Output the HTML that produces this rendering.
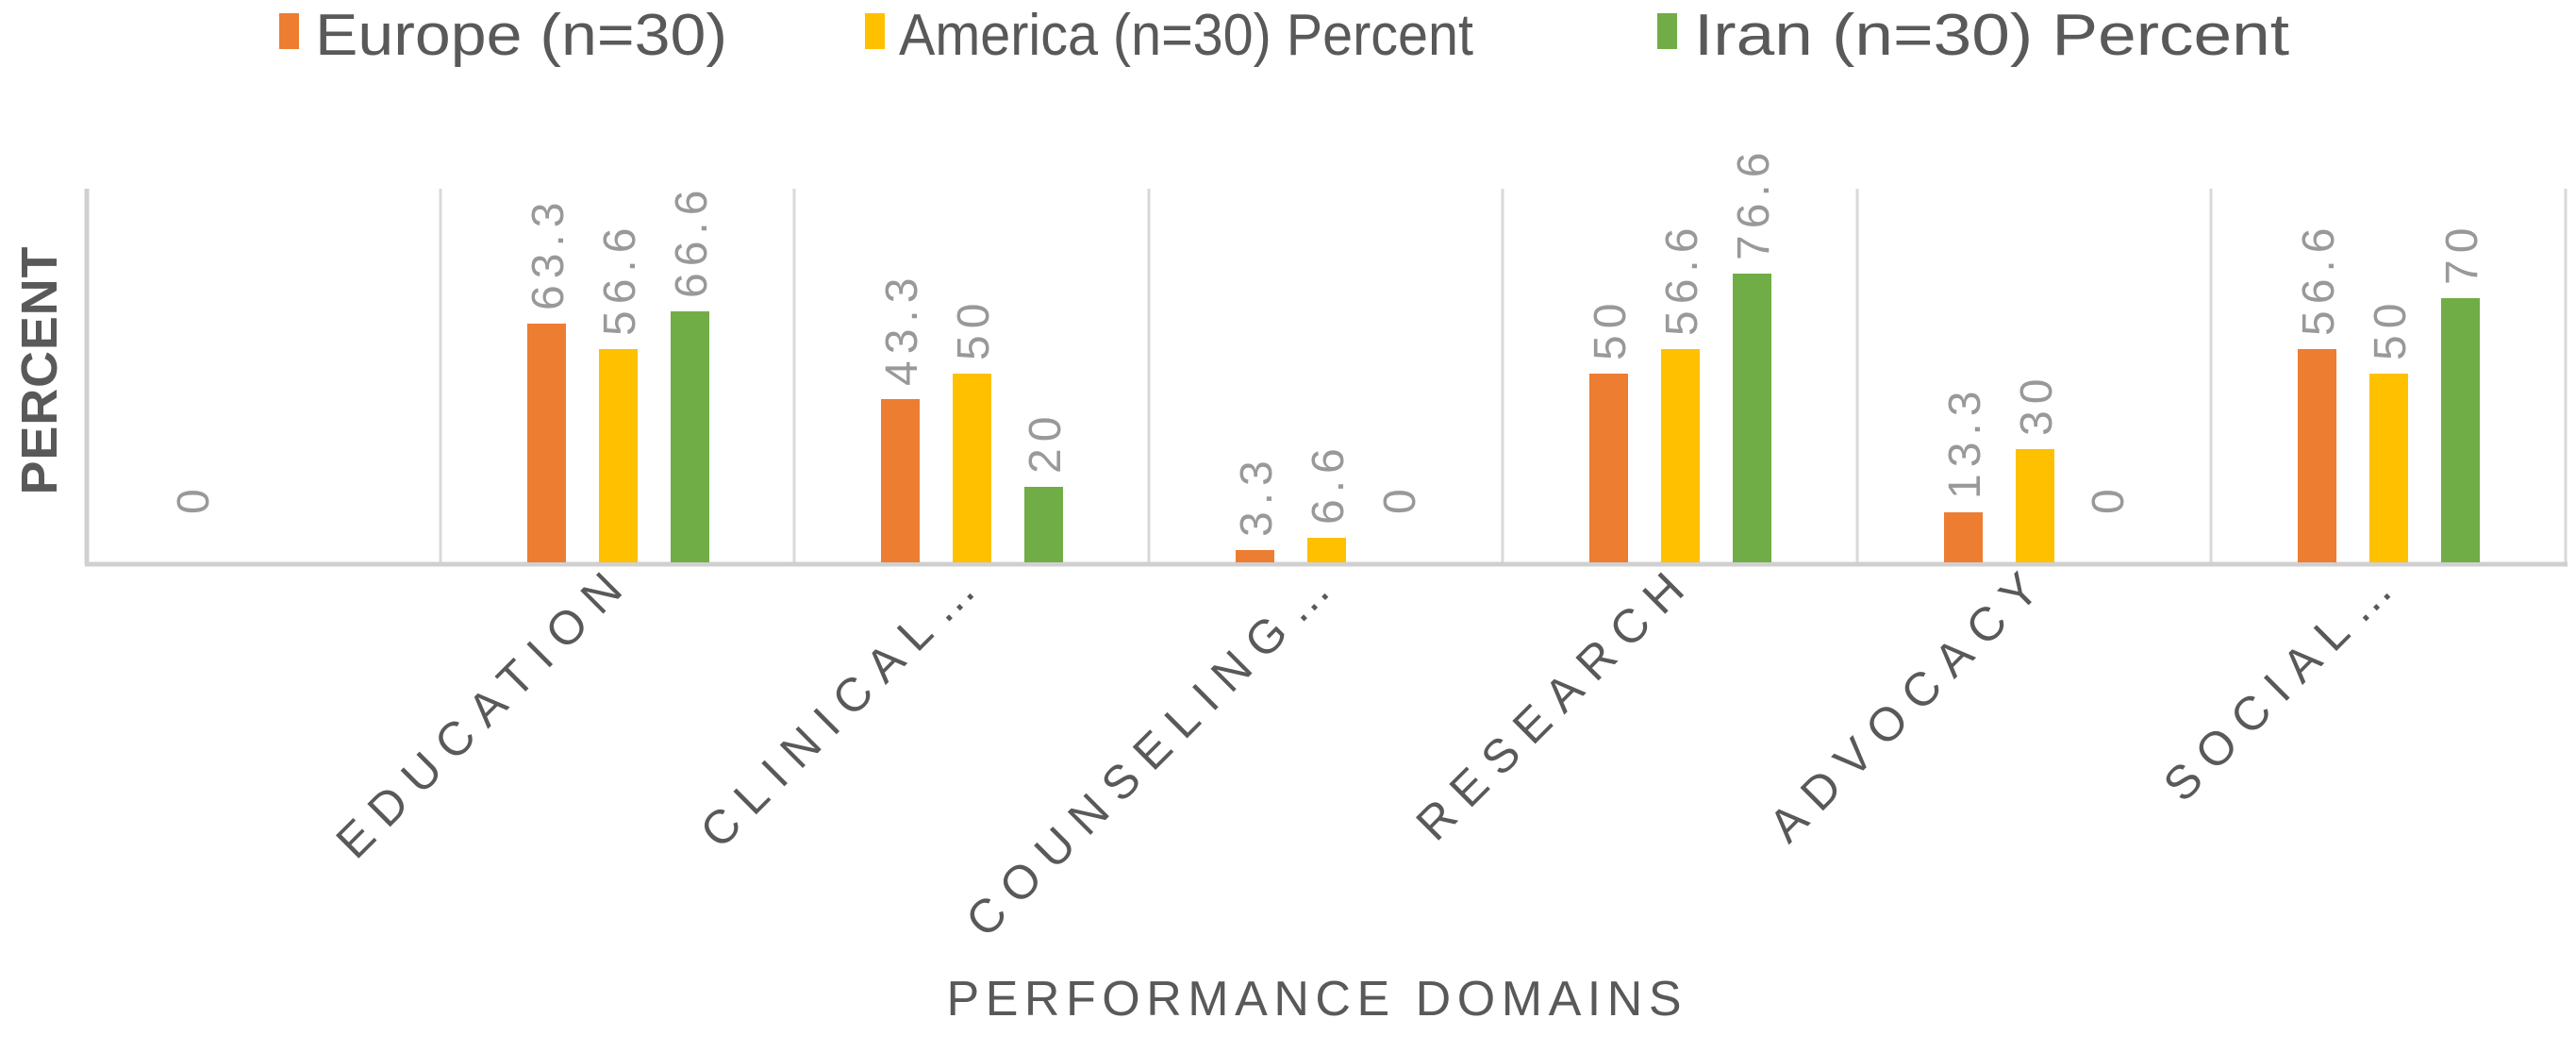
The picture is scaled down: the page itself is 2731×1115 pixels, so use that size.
<!DOCTYPE html>
<html><head><meta charset="utf-8"><style>
html,body{margin:0;padding:0;background:#fff;}
svg{display:block;}
text{font-family:"Liberation Sans",sans-serif;}
</style></head><body>
<svg width="2731" height="1115" viewBox="0 0 2731 1115" xmlns="http://www.w3.org/2000/svg">
<rect width="2731" height="1115" fill="#fff"/>
<!-- legend -->
<rect x="296" y="14" width="21" height="38" fill="#ED7D31"/>
<text x="334" y="58" font-size="62" fill="#595959" textLength="437" lengthAdjust="spacingAndGlyphs">Europe (n=30)</text>
<rect x="917" y="14" width="21" height="38" fill="#FFC000"/>
<text x="953" y="58" font-size="62" fill="#595959" textLength="609" lengthAdjust="spacingAndGlyphs">America (n=30) Percent</text>
<rect x="1757" y="14" width="21" height="38" fill="#70AD47"/>
<text x="1796" y="58" font-size="62" fill="#595959" textLength="631" lengthAdjust="spacingAndGlyphs">Iran (n=30) Percent</text>
<!-- gridlines -->
<g stroke="#d9d9d9" stroke-width="3">
<line x1="467" y1="200" x2="467" y2="598"/>
<line x1="842" y1="200" x2="842" y2="598"/>
<line x1="1218" y1="200" x2="1218" y2="598"/>
<line x1="1593" y1="200" x2="1593" y2="598"/>
<line x1="1969" y1="200" x2="1969" y2="598"/>
<line x1="2344" y1="200" x2="2344" y2="598"/>
<line x1="2720" y1="200" x2="2720" y2="598"/>
</g>
<line x1="92" y1="200" x2="92" y2="598" stroke="#d0d0d0" stroke-width="5"/>
<line x1="90" y1="598" x2="2722" y2="598" stroke="#d0d0d0" stroke-width="5"/>
<g>
<rect x="559" y="343" width="41" height="253" fill="#ED7D31"/>
<rect x="635" y="370" width="41" height="226" fill="#FFC000"/>
<rect x="711" y="330" width="41" height="266" fill="#70AD47"/>
<rect x="934" y="423" width="41" height="173" fill="#ED7D31"/>
<rect x="1010" y="396" width="41" height="200" fill="#FFC000"/>
<rect x="1086" y="516" width="41" height="80" fill="#70AD47"/>
<rect x="1310" y="583" width="41" height="13" fill="#ED7D31"/>
<rect x="1386" y="570" width="41" height="26" fill="#FFC000"/>
<rect x="1685" y="396" width="41" height="200" fill="#ED7D31"/>
<rect x="1761" y="370" width="41" height="226" fill="#FFC000"/>
<rect x="1837" y="290" width="41" height="306" fill="#70AD47"/>
<rect x="2061" y="543" width="41" height="53" fill="#ED7D31"/>
<rect x="2137" y="476" width="41" height="120" fill="#FFC000"/>
<rect x="2436" y="370" width="41" height="226" fill="#ED7D31"/>
<rect x="2512" y="396" width="41" height="200" fill="#FFC000"/>
<rect x="2588" y="316" width="41" height="280" fill="#70AD47"/>
</g>
<!-- data labels -->
<g font-size="48" fill="#999999" letter-spacing="7">
<text transform="translate(221,545) rotate(-90)">0</text>
<text transform="translate(597,329) rotate(-90)">63.3</text>
<text transform="translate(673,356) rotate(-90)">56.6</text>
<text transform="translate(749,316) rotate(-90)">66.6</text>
<text transform="translate(972,409) rotate(-90)">43.3</text>
<text transform="translate(1048,382) rotate(-90)">50</text>
<text transform="translate(1124,502) rotate(-90)">20</text>
<text transform="translate(1348,569) rotate(-90)">3.3</text>
<text transform="translate(1424,556) rotate(-90)">6.6</text>
<text transform="translate(1500,545) rotate(-90)">0</text>
<text transform="translate(1723,382) rotate(-90)">50</text>
<text transform="translate(1799,356) rotate(-90)">56.6</text>
<text transform="translate(1875,276) rotate(-90)">76.6</text>
<text transform="translate(2099,529) rotate(-90)">13.3</text>
<text transform="translate(2175,462) rotate(-90)">30</text>
<text transform="translate(2251,545) rotate(-90)">0</text>
<text transform="translate(2474,356) rotate(-90)">56.6</text>
<text transform="translate(2550,382) rotate(-90)">50</text>
<text transform="translate(2626,302) rotate(-90)">70</text>
</g>
<!-- category labels -->
<g font-size="50" fill="#595959" text-anchor="end" letter-spacing="14">
<text transform="translate(672,618) rotate(-45)">EDUCATION</text>
<text transform="translate(1047,618) rotate(-45)">CLINICAL…</text>
<text transform="translate(1423,618) rotate(-45)">COUNSELING…</text>
<text transform="translate(1798,618) rotate(-45)">RESEARCH</text>
<text transform="translate(2174,618) rotate(-45)">ADVOCACY</text>
<text transform="translate(2549,618) rotate(-45)">SOCIAL…</text>
</g>
<!-- axis titles -->
<text transform="translate(60,393) rotate(-90)" font-size="54" font-weight="bold" fill="#595959" text-anchor="middle" textLength="263" lengthAdjust="spacing">PERCENT</text>
<text x="1393" y="1076" font-size="52" fill="#595959" text-anchor="middle" textLength="779" lengthAdjust="spacing">PERFORMANCE DOMAINS</text>
</svg>
</body></html>
